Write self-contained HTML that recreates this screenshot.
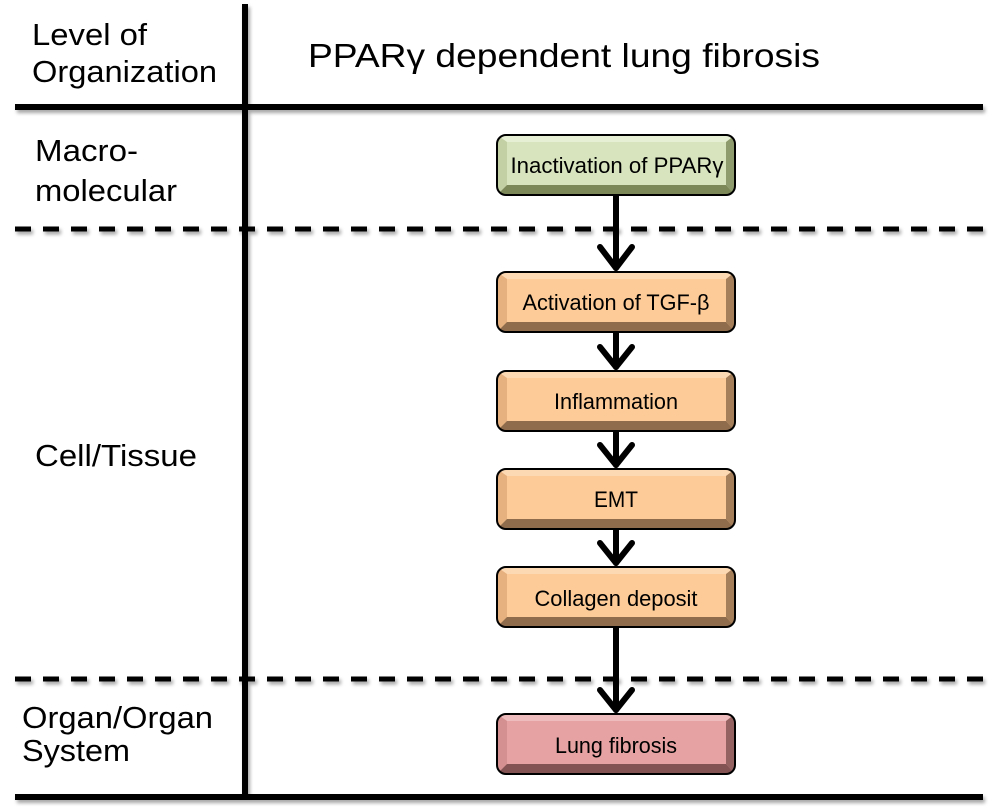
<!DOCTYPE html>
<html>
<head>
<meta charset="utf-8">
<style>
html,body{margin:0;padding:0;background:#fff;}
body{width:993px;height:811px;overflow:hidden;}
svg{display:block;}
text{font-family:"Liberation Sans",Arial,sans-serif;fill:#000;}
</style>
</head>
<body>
<svg width="993" height="811" viewBox="0 0 993 811" xmlns="http://www.w3.org/2000/svg">
<defs>
  <filter id="sh" filterUnits="userSpaceOnUse" x="0" y="0" width="993" height="811">
    <feDropShadow dx="2" dy="3" stdDeviation="1.8" flood-color="#000" flood-opacity="0.35"/>
  </filter>
  <clipPath id="c1"><rect x="497" y="135" width="238" height="60" rx="9"/></clipPath>
  <clipPath id="c2"><rect x="497" y="272" width="238" height="60" rx="9"/></clipPath>
  <clipPath id="c3"><rect x="497" y="371" width="238" height="60" rx="9"/></clipPath>
  <clipPath id="c4"><rect x="497" y="469" width="238" height="60" rx="9"/></clipPath>
  <clipPath id="c5"><rect x="497" y="567" width="238" height="60" rx="9"/></clipPath>
  <clipPath id="c6"><rect x="497" y="714" width="238" height="60" rx="9"/></clipPath>
</defs>

<!-- grid lines -->
<g filter="url(#sh)" fill="#000">
  <rect x="15" y="104" width="968" height="6"/>
  <rect x="15" y="794" width="968" height="6"/>
  <rect x="242" y="4" width="6" height="796"/>
  <line x1="15" y1="229" x2="983" y2="229" stroke="#000" stroke-width="5" stroke-dasharray="16 12"/>
  <line x1="15" y1="679" x2="983" y2="679" stroke="#000" stroke-width="5" stroke-dasharray="16 12"/>
</g>

<!-- header text -->
<text x="32" y="45" font-size="31" textLength="115" lengthAdjust="spacingAndGlyphs">Level of</text>
<text x="32" y="82" font-size="31" textLength="185" lengthAdjust="spacingAndGlyphs">Organization</text>
<text x="308" y="67" font-size="33" textLength="512" lengthAdjust="spacingAndGlyphs">PPARγ dependent lung fibrosis</text>

<!-- row labels -->
<text x="35" y="161" font-size="31" textLength="103" lengthAdjust="spacingAndGlyphs">Macro-</text>
<text x="35" y="201" font-size="31" textLength="142" lengthAdjust="spacingAndGlyphs">molecular</text>
<text x="35" y="466" font-size="31" textLength="162" lengthAdjust="spacingAndGlyphs">Cell/Tissue</text>
<text x="22" y="728" font-size="31" textLength="191" lengthAdjust="spacingAndGlyphs">Organ/Organ</text>
<text x="22" y="761" font-size="31" textLength="108" lengthAdjust="spacingAndGlyphs">System</text>

<!-- arrows -->
<g stroke="#000" stroke-width="6" fill="none" stroke-linecap="round" stroke-linejoin="round">
  <line x1="616" y1="195" x2="616" y2="268"/>
  <polyline points="600,247 616,268 632,247"/>
  <line x1="616" y1="332" x2="616" y2="367"/>
  <polyline points="600,347 616,367 632,347"/>
  <line x1="616" y1="431" x2="616" y2="465"/>
  <polyline points="600,445 616,465 632,445"/>
  <line x1="616" y1="529" x2="616" y2="563"/>
  <polyline points="600,543 616,563 632,543"/>
  <line x1="616" y1="627" x2="616" y2="710"/>
  <polyline points="600,690 616,710 632,690"/>
</g>

<!-- Box 1 green -->
<g clip-path="url(#c1)">
  <rect x="497" y="135" width="238" height="60" fill="#d7e4bd"/>
  <polygon points="497,135 735,135 726,142 507,142" fill="#e6eed3"/>
  <polygon points="497,135 507,142 507,185 497,195" fill="#c3d0a4"/>
  <polygon points="735,135 735,195 726,185 726,142" fill="#8e9b6c"/>
  <polygon points="497,195 507,185 726,185 735,195" fill="#7c8858"/>
</g>
<rect x="497" y="135" width="238" height="60" rx="9" fill="none" stroke="#000" stroke-width="2"/>
<text x="617" y="173" font-size="22" text-anchor="middle" textLength="213" lengthAdjust="spacingAndGlyphs">Inactivation of PPARγ</text>

<!-- Box 2 -->
<g clip-path="url(#c2)">
  <rect x="497" y="272" width="238" height="60" fill="#fccb98"/>
  <polygon points="497,272 735,272 726,279 507,279" fill="#fdd9b3"/>
  <polygon points="497,272 507,279 507,322 497,332" fill="#e6b07f"/>
  <polygon points="735,272 735,332 726,322 726,279" fill="#a57e5a"/>
  <polygon points="497,332 507,322 726,322 735,332" fill="#8f6c4c"/>
</g>
<rect x="497" y="272" width="238" height="60" rx="9" fill="none" stroke="#000" stroke-width="2"/>
<text x="616" y="310" font-size="22" text-anchor="middle" textLength="187" lengthAdjust="spacingAndGlyphs">Activation of TGF-β</text>

<!-- Box 3 -->
<g clip-path="url(#c3)">
  <rect x="497" y="371" width="238" height="60" fill="#fccb98"/>
  <polygon points="497,371 735,371 726,378 507,378" fill="#fdd9b3"/>
  <polygon points="497,371 507,378 507,421 497,431" fill="#e6b07f"/>
  <polygon points="735,371 735,431 726,421 726,378" fill="#a57e5a"/>
  <polygon points="497,431 507,421 726,421 735,431" fill="#8f6c4c"/>
</g>
<rect x="497" y="371" width="238" height="60" rx="9" fill="none" stroke="#000" stroke-width="2"/>
<text x="616" y="409" font-size="22" text-anchor="middle" textLength="124" lengthAdjust="spacingAndGlyphs">Inflammation</text>

<!-- Box 4 -->
<g clip-path="url(#c4)">
  <rect x="497" y="469" width="238" height="60" fill="#fccb98"/>
  <polygon points="497,469 735,469 726,476 507,476" fill="#fdd9b3"/>
  <polygon points="497,469 507,476 507,519 497,529" fill="#e6b07f"/>
  <polygon points="735,469 735,529 726,519 726,476" fill="#a57e5a"/>
  <polygon points="497,529 507,519 726,519 735,529" fill="#8f6c4c"/>
</g>
<rect x="497" y="469" width="238" height="60" rx="9" fill="none" stroke="#000" stroke-width="2"/>
<text x="616" y="507" font-size="22" text-anchor="middle" textLength="44" lengthAdjust="spacingAndGlyphs">EMT</text>

<!-- Box 5 -->
<g clip-path="url(#c5)">
  <rect x="497" y="567" width="238" height="60" fill="#fccb98"/>
  <polygon points="497,567 735,567 726,574 507,574" fill="#fdd9b3"/>
  <polygon points="497,567 507,574 507,617 497,627" fill="#e6b07f"/>
  <polygon points="735,567 735,627 726,617 726,574" fill="#a57e5a"/>
  <polygon points="497,627 507,617 726,617 735,627" fill="#8f6c4c"/>
</g>
<rect x="497" y="567" width="238" height="60" rx="9" fill="none" stroke="#000" stroke-width="2"/>
<text x="616" y="606" font-size="22" text-anchor="middle" textLength="163" lengthAdjust="spacingAndGlyphs">Collagen deposit</text>

<!-- Box 6 red -->
<g clip-path="url(#c6)">
  <rect x="497" y="714" width="238" height="60" fill="#e6a2a2"/>
  <polygon points="497,714 735,714 726,721 507,721" fill="#eebcbc"/>
  <polygon points="497,714 507,721 507,764 497,774" fill="#d49090"/>
  <polygon points="735,714 735,774 726,764 726,721" fill="#956262"/>
  <polygon points="497,774 507,764 726,764 735,774" fill="#835252"/>
</g>
<rect x="497" y="714" width="238" height="60" rx="9" fill="none" stroke="#000" stroke-width="2"/>
<text x="616" y="753" font-size="22" text-anchor="middle" textLength="122" lengthAdjust="spacingAndGlyphs">Lung fibrosis</text>
</svg>
</body>
</html>
